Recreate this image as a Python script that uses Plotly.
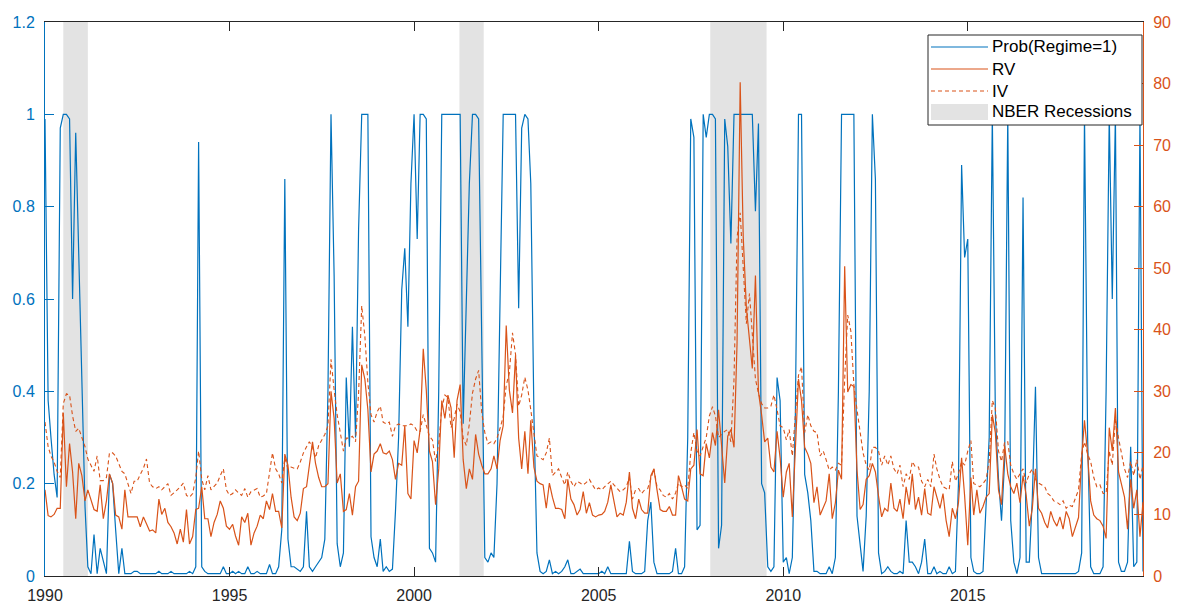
import pandas as pd
import plotly.graph_objects as go

# ---------------- data (monthly, Jan 1990 - Oct 2019) ----------------
prob = [
    .99, .38, .30, .22, .17, .97, 1.0, 1.0, .99, .60, .96, .70,      # 1990
    .40, .15, .02, .005, .09, .005, .06, .03, .005, .22, .20, .10,   # 1991
    .005, .06, .005, .005, .005, .01, .01, .005, .005, .005, .005, .005,  # 1992
    .005, .01, .005, .005, .005, .01, .005, .005, .005, .005, .005, .01,  # 1993
    .005, .02, .94, .02, .01, .005, .005, .005, .005, .005, .02, .005,    # 1994
    .005, .01, .005, .01, .005, .005, .02, .005, .005, .01, .005, .005,   # 1995
    .005, .025, .005, .005, .02, .10, .86, .08, .02, .02, .015, .01,      # 1996
    .02, .14, .02, .01, .02, .03, .04, .08, .40, 1.0, .65, .07,           # 1997
    .02, .05, .43, .28, .54, .30, .75, 1.0, 1.0, 1.0, .085, .04,          # 1998
    .02, .08, .01, .02, .01, .015, .14, .30, .62, .71, .54, .85,          # 1999
    1.0, .73, 1.0, 1.0, .99, .06, .05, .03, .40, 1.0, 1.0, 1.0,           # 2000
    1.0, 1.0, 1.0, 1.0, .33, .60, .85, 1.0, 1.0, .99, .45, .04,           # 2001
    .03, .05, .04, .20, .60, 1.0, 1.0, 1.0, 1.0, 1.0, .58, .97,           # 2002
    1.0, .99, .85, .35, .05, .01, .005, .01, .035, .005, .01, .005,       # 2003
    .01, .02, .035, .005, .005, .01, .015, .005, .005, .005, .005, .005,  # 2004
    .005, .01, .005, .02, .005, .005, .005, .005, .005, .005, .075, .01,  # 2005
    .005, .005, .005, .01, .12, .16, .03, .005, .005, .005, .005, .005,   # 2006
    .01, .06, .005, .005, .02, .30, .99, .95, .10, .11, 1.0, .95,         # 2007
    1.0, 1.0, .99, .06, .11, .99, .93, .72, 1.0, 1.0, 1.0, 1.0,           # 2008
    1.0, 1.0, 1.0, .79, .98, .20, .18, .02, .01, .02, .43, .38,           # 2009
    .03, .04, .005, .04, .35, 1.0, 1.0, .22, .18, .12, .01, .01,          # 2010
    .005, .005, .005, .02, .005, .04, .40, 1.0, 1.0, 1.0, 1.0, 1.0,       # 2011
    .13, .06, .01, .13, .40, 1.0, .86, .05, .005, .01, .02, .01,          # 2012
    .005, .005, .01, .005, .12, .03, .03, .02, .005, .03, .08, .005,      # 2013
    .005, .02, .005, .01, .005, .005, .02, .005, .01, .20, .89, .69,      # 2014
    .73, .04, .01, .005, .005, .01, .14, .30, 1.0, .35, .21, .12,         # 2015
    .25, 1.0, .12, .03, .005, .04, .82, .03, .03, .17, .41, .04,          # 2016
    .005, .005, .005, .005, .005, .005, .005, .005, .005, .005, .005, .005,  # 2017
    .01, .05, 1.0, .30, .02, .005, .005, .005, .02, .40, 1.0, .60,        # 2018
    1.0, .03, .01, .01, .03, .28, .02, .03, 1.0, .01,                     # 2019
]

rv = [
    14, 9.8, 9.6, 10, 11, 11, 26.5, 14.5, 21.5, 16.9, 9.3, 18.3,           # 1990
    16.3, 12.2, 14, 12.2, 10.8, 10.5, 14.8, 9.3, 12.2, 16.6, 15.1, 9.9,    # 1991
    9.6, 7.6, 14, 9.6, 9.6, 9.6, 9.6, 8, 9.6, 8.5, 7.3, 7.5,               # 1992
    7, 12.5, 10, 11, 8.7, 8, 7, 5.2, 7.6, 5.5, 10.8, 5.2,                  # 1993
    6.4, 10.8, 11, 14.5, 9.3, 9.3, 6.4, 8.7, 10, 12.2, 11, 8.1,            # 1994
    7.6, 8.4, 6.5, 5, 9.6, 8.7, 10.2, 5, 7, 8.1, 9.9, 9.3,                 # 1995
    12.2, 10.8, 13.4, 10.5, 10.5, 7.8, 19.8, 18, 12.8, 9.6, 9, 10.2,       # 1996
    14.2, 14.5, 18, 21.8, 18.3, 16, 14.5, 14.5, 15, 30, 25.6, 15.1,        # 1997
    16.6, 10.5, 10.8, 13.4, 9.9, 14.5, 15.4, 34.3, 32, 27, 16.9, 19.8,     # 1998
    20.3, 21.5, 20, 19.8, 20.3, 18.9, 15.7, 18.3, 18, 24.4, 13.4, 12.5,    # 1999
    22, 20, 23.8, 36.9, 30.2, 20.3, 18.6, 11.6, 17.4, 28.5, 25.6, 29.4,    # 2000
    27.3, 19.2, 28.5, 31.1, 18.9, 14.2, 17.4, 15.7, 23, 19.8, 18, 16.6,    # 2001
    16.6, 17.4, 19.5, 17.4, 22, 24.4, 40.7, 30.2, 26.5, 35.8, 22.4, 17.4,  # 2002
    23.5, 16.6, 25.3, 17.7, 15.4, 15, 14.8, 11, 15.1, 12.8, 11, 11,        # 2003
    10.8, 9.3, 15.7, 12.5, 11.6, 9.9, 10.8, 13.7, 10.2, 11.9, 9.9, 9.6,    # 2004
    9.9, 10, 10.5, 12, 14.8, 11.9, 9.6, 10.2, 9.9, 12, 16.9, 11,           # 2005
    9.3, 12.5, 10.8, 10.2, 10.2, 16.3, 17.4, 14, 10.8, 10.5, 10.5, 11.3,   # 2006
    9.9, 9.9, 16.3, 14.5, 12.5, 12.2, 17.4, 18, 23.8, 16.6, 16.3, 21.5,    # 2007
    19.2, 23.3, 21.2, 27, 20.9, 15.1, 22.7, 23.8, 20.9, 37.8, 80.2, 55.2,  # 2008
    43.6, 37.8, 33.7, 48.8, 29.9, 26.2, 21.8, 22.4, 17.7, 16.9, 23.5, 19.2,  # 2009
    12.8, 16.9, 18.3, 9.6, 21.2, 32, 28.5, 20.9, 19.8, 18.3, 11.9, 14.5,   # 2010
    9.9, 11, 12.2, 16.6, 9.3, 11.9, 17.2, 15.7, 50.3, 29.9, 31.1, 30.8,    # 2011
    17.2, 10.8, 11.6, 15.7, 16.3, 18.3, 16.9, 13, 9.6, 11, 10.5, 15.1,     # 2012
    11, 10.5, 12.5, 9.3, 14.5, 11.6, 16.6, 10.8, 12.8, 9.9, 14.2, 10.2,    # 2013
    9.9, 14.5, 12.8, 11, 13.4, 9, 6.4, 11, 9.3, 11.9, 19.2, 13,            # 2014
    5, 16, 9.9, 14, 10.2, 11.3, 12.8, 13.4, 26.2, 23.3, 14, 11.6,          # 2015
    21.2, 16.6, 14.5, 13.4, 15.1, 11.9, 16.3, 13.1, 8.1, 11, 17.4, 11,     # 2016
    10.2, 8.7, 7.8, 10.5, 9, 8.1, 9.6, 7.6, 10.5, 9.3, 6.4, 8.1,           # 2017
    9.5, 19.2, 25.3, 19.8, 12.2, 9.9, 9.3, 9, 8.1, 6.1, 24.1, 20.3,        # 2018
    27.3, 16.9, 15.1, 12.8, 7.6, 15.7, 11, 14, 6.4, 12,                    # 2019
]

iv = [
    25, 21, 19.5, 18.5, 17, 16, 28, 29.6, 29.4, 26, 23.5, 24,              # 1990
    22.5, 21, 19, 18, 17, 19.5, 15.5, 15.5, 16, 20, 20, 19.5,              # 1991
    18.3, 17, 16.6, 15.1, 13.4, 15.4, 15.4, 16.5, 17.5, 19, 15.1, 14.5,    # 1992
    14.2, 14.5, 14, 14.5, 15, 13.1, 13.5, 14, 14.5, 15.1, 13.1, 12.8,      # 1993
    13.4, 16, 20.3, 15.7, 14, 16.3, 14, 14.5, 15.1, 16.3, 17.4, 14,        # 1994
    13.1, 13.4, 14, 13.5, 13.1, 14.2, 12.8, 13.7, 14, 14.2, 12.8, 13,      # 1995
    13.4, 16.9, 20, 17.4, 16.6, 15.1, 19.2, 17.4, 17.7, 17.5, 17.4, 18.5,  # 1996
    20, 21, 21.8, 20.9, 19.2, 21.2, 22, 23, 24.4, 35.2, 30.2, 26.2,        # 1997
    23.3, 20.3, 22.4, 22.4, 22.7, 21.8, 29.7, 43.9, 39, 31.4, 26.2, 25,    # 1998
    26.7, 27.6, 25, 24.7, 25, 22.7, 24.4, 24.7, 24.4, 24.4, 24.4, 24.7,    # 1999
    24.4, 23.5, 23.5, 26.2, 24.4, 22.7, 22.1, 18.6, 21.5, 27.3, 29.4, 29,  # 2000
    24.1, 25.6, 27.9, 26.7, 22.4, 21.2, 24.7, 29.7, 32, 33.4, 26.5, 23.3,  # 2001
    21.5, 21.8, 21.5, 22.4, 24, 25.9, 31, 33, 39.5, 36, 27.6, 29.4,        # 2002
    32.3, 30.2, 27, 22.7, 19.5, 19.2, 18.9, 20, 22.4, 16.3, 16.9, 17.4,    # 2003
    16, 14.8, 16.9, 15.4, 14.5, 15.4, 15.1, 14.8, 15.2, 15.7, 14.8, 14,    # 2004
    14.3, 14, 14.5, 15, 15.4, 14.8, 14.2, 13.7, 14, 14.5, 16, 12.5,        # 2005
    14, 14.2, 13.4, 14, 14.2, 15.7, 17.4, 14.5, 14, 13.1, 12.8, 13.4,      # 2006
    12.5, 13.5, 15.1, 14.5, 14.8, 14.2, 20, 23.3, 20.3, 19.5, 21, 22.5,    # 2007
    26, 27.5, 26, 22.5, 23, 23.5, 23.8, 21.8, 32, 55, 59, 50,              # 2008
    41, 45.9, 39, 32, 29.7, 28, 27.3, 27.3, 27.6, 29.4, 27, 24.4,          # 2009
    24.1, 22.1, 23.8, 19.5, 26.2, 32.6, 34, 23.3, 26.2, 24.4, 23.5, 23.3,  # 2010
    19.5, 20.3, 18.9, 17.2, 17.7, 17.2, 18.3, 18, 32, 42.4, 39.8, 31.1,    # 2011
    27, 23, 20, 18, 17.2, 20.9, 20.9, 20.3, 18, 19.5, 18, 19.5,            # 2012
    17.4, 16.6, 18, 14.5, 16.6, 15.7, 18.6, 17.7, 17.7, 15.4, 14.5, 15.7,  # 2013
    14.5, 19.8, 17.4, 15.7, 14.5, 14.2, 14, 18.6, 15.4, 16.6, 18.6, 18,    # 2014
    20.3, 22, 15, 14.8, 14.5, 15, 15.7, 18.6, 28.5, 27.3, 20.3, 18.6,      # 2015
    21.8, 21.8, 18, 16.6, 15.7, 16.6, 17.4, 15.1, 16.6, 17.4, 15.7, 15.1,  # 2016
    14.8, 14.5, 13.4, 13, 12.2, 12, 11.6, 12.2, 11, 11.5, 11.3, 12.8,      # 2017
    14, 19.8, 21.8, 19.8, 18.6, 16, 14.5, 14.8, 13.4, 13.4, 20.3, 18,      # 2018
    25.6, 22.4, 20, 17.4, 16, 18.6, 16.3, 18.9, 15.7, 18,                  # 2019
]

rec_start = ["1990-07-01", "2001-03-25", "2008-01-10"]
rec_end = ["1991-03-01", "2001-11-20", "2009-07-20"]

x_ticks = ["1990-01-01", "1995-01-01", "2000-01-01", "2005-01-01", "2010-01-01", "2015-01-01"]
x_tick_labels = ["1990", "1995", "2000", "2005", "2010", "2015"]
left_ticks = [0, 0.2, 0.4, 0.6, 0.8, 1.0, 1.2]
left_tick_labels = ["0", "0.2", "0.4", "0.6", "0.8", "1", "1.2"]
right_ticks = [0, 10, 20, 30, 40, 50, 60, 70, 80, 90]

legend_labels = ["Prob(Regime=1)", "RV", "IV", "NBER Recessions"]

# ---------------- styling ----------------
BLUE = "#0072BD"
ORANGE = "#D95319"
GRAY = "#E3E3E3"
DARK = "#262626"
FONT = "Liberation Sans, Arial, Helvetica, sans-serif"

W, H = 1187, 607
L, R, T, B = 45, 44, 22, 31
PW, PH = W - L - R, H - T - B

dates = pd.date_range("1990-01-01", periods=len(prob), freq="MS")

fig = go.Figure()

# recession shading (drawn from the recession date lists)
rx, ry = [], []
for s, e in zip(rec_start, rec_end):
    rx += [s, s, e, e, s, None]
    ry += [0, 1.2, 1.2, 0, 0, None]
fig.add_trace(go.Scatter(x=rx, y=ry, fill="toself", fillcolor=GRAY, mode="lines",
                         line=dict(width=0, color=GRAY), hoverinfo="skip",
                         showlegend=False, yaxis="y"))

fig.add_trace(go.Scatter(x=dates, y=prob, mode="lines", line=dict(color=BLUE, width=1.2),
                         showlegend=False, yaxis="y"))
fig.add_trace(go.Scatter(x=dates, y=iv, mode="lines",
                         line=dict(color=ORANGE, width=1.1, dash="4px,3px"),
                         showlegend=False, yaxis="y2"))
fig.add_trace(go.Scatter(x=dates, y=rv, mode="lines", line=dict(color=ORANGE, width=1.2),
                         showlegend=False, yaxis="y2"))


def px_x(px):
    return (px - L) / PW


def px_y(py):
    return (H - B - py) / PH


# manual legend (MATLAB style)
shapes = [dict(type="rect", xref="paper", yref="paper",
               x0=px_x(928), x1=px_x(1142), y0=px_y(125), y1=px_y(35),
               fillcolor="white", line=dict(color=DARK, width=1), layer="above")]
rows = [47, 69, 91, 112]
line_styles = [dict(color=BLUE, width=1.2), dict(color=ORANGE, width=1.2),
               dict(color=ORANGE, width=1.2, dash="4px,3px")]
for ry_, st in zip(rows[:3], line_styles):
    shapes.append(dict(type="line", xref="paper", yref="paper",
                       x0=px_x(931), x1=px_x(988), y0=px_y(ry_), y1=px_y(ry_),
                       line=st, layer="above"))
shapes.append(dict(type="rect", xref="paper", yref="paper",
                   x0=px_x(931), x1=px_x(988), y0=px_y(120), y1=px_y(104),
                   fillcolor=GRAY, line=dict(width=0), layer="above"))

annotations = []
for ry_, lab in zip(rows, legend_labels):
    annotations.append(dict(xref="paper", yref="paper", x=px_x(990), y=px_y(ry_),
                            text=lab, showarrow=False, xanchor="left", yanchor="middle",
                            font=dict(family=FONT, size=17, color="black")))

fig.update_layout(
    width=W, height=H,
    margin=dict(l=L, r=R, t=T, b=B, autoexpand=False),
    paper_bgcolor="white", plot_bgcolor="white",
    showlegend=False,
    font=dict(family=FONT, size=16, color=DARK),
    xaxis=dict(type="date", range=["1990-01-01", "2019-10-01"],
               tickvals=x_ticks, ticktext=x_tick_labels, automargin=False,
               showline=True, linecolor=DARK, linewidth=1, mirror="ticks",
               ticks="inside", ticklen=9, tickcolor=DARK, tickwidth=1,
               showgrid=False, zeroline=False, ticklabelstandoff=5,
               tickfont=dict(family=FONT, size=16, color=DARK)),
    yaxis=dict(range=[0, 1.2], tickvals=left_ticks, ticktext=left_tick_labels,
               automargin=False,
               showline=True, linecolor=BLUE, linewidth=1,
               ticks="inside", ticklen=9, tickcolor=BLUE,
               showgrid=False, zeroline=False, ticklabelstandoff=6,
               tickfont=dict(family=FONT, size=16, color=BLUE)),
    yaxis2=dict(range=[0, 90], tickvals=right_ticks, overlaying="y", side="right",
                automargin=False,
                showline=True, linecolor=ORANGE, linewidth=1,
                ticks="inside", ticklen=9, tickcolor=ORANGE,
                showgrid=False, zeroline=False, ticklabelstandoff=6,
                tickfont=dict(family=FONT, size=16, color=ORANGE)),
    shapes=shapes,
    annotations=annotations,
)

fig.write_html("out.html")
